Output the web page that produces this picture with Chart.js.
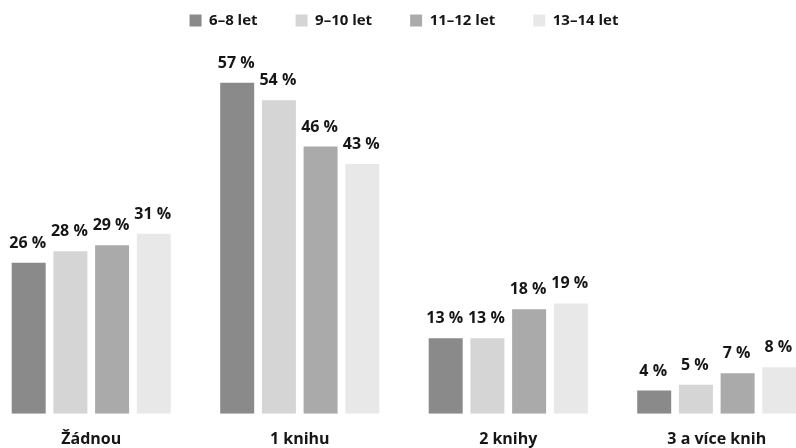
<!DOCTYPE html>
<html>
<head>
<meta charset="utf-8">
<script src="https://cdn.jsdelivr.net/npm/chart.js@4"></script>
<style>
  html, body { margin: 0; padding: 0; background: #fff; overflow: hidden; width: 796px; height: 448px; }
  #wrap { position: absolute; left: -12.75px; top: 0; width: 834px; height: 448px; }
</style>
</head>
<body>
<div id="wrap"><canvas id="c" width="834" height="448"></canvas></div>
<script>
const categories = ['Žádnou', '1 knihu', '2 knihy', '3 a více knih'];
const seriesNames = ['6–8 let', '9–10 let', '11–12 let', '13–14 let'];
const age6to8 = [26, 57, 13, 4];
const age9to10 = [28, 54, 13, 5];
const age11to12 = [29, 46, 18, 7];
const age13to14 = [31, 43, 19, 8];
const colors = ['#8a8a8a', '#d5d5d5', '#aaaaaa', '#e8e8e8'];

const FONT = '"Open Sans", "Noto Sans", sans-serif';
const TEXT = '#161616';

const valueLabels = {
  id: 'valueLabels',
  afterDatasetsDraw(chart) {
    const ctx = chart.ctx;
    ctx.save();
    ctx.font = 'bold 16px ' + FONT;
    ctx.fillStyle = TEXT;
    ctx.textAlign = 'center';
    ctx.textBaseline = 'alphabetic';
    chart.data.datasets.forEach((ds, i) => {
      const meta = chart.getDatasetMeta(i);
      meta.data.forEach((bar, j) => {
        ctx.fillText(ds.data[j] + ' %', bar.x - 1, bar.y - 15);
      });
    });
    ctx.restore();
  }
};

const seriesData = [age6to8, age9to10, age11to12, age13to14];

new Chart(document.getElementById('c'), {
  type: 'bar',
  data: {
    labels: categories,
    datasets: seriesNames.map((name, i) => ({
      label: name,
      data: seriesData[i],
      backgroundColor: colors[i],
      borderWidth: 0,
      categoryPercentage: 0.8,
      barPercentage: 0.815
    }))
  },
  options: {
    responsive: false,
    animation: false,
    events: [],
    layout: { padding: { top: -25, bottom: -9, left: 0, right: 0 } },
    plugins: {
      tooltip: { enabled: false },
      legend: {
        position: 'top',
        labels: {
          boxWidth: 12,
          boxHeight: 12,
          padding: 38,
          color: TEXT,
          font: { family: FONT, size: 15, weight: 'bold' }
        }
      }
    },
    scales: {
      x: {
        grid: { display: false },
        border: { display: false },
        ticks: {
          padding: 8,
          color: TEXT,
          font: { family: FONT, size: 16, weight: 'bold' }
        }
      },
      y: {
        display: false,
        min: 0,
        max: 64.7,
        grid: { display: false }
      }
    }
  },
  plugins: [valueLabels]
});
</script>
</body>
</html>
